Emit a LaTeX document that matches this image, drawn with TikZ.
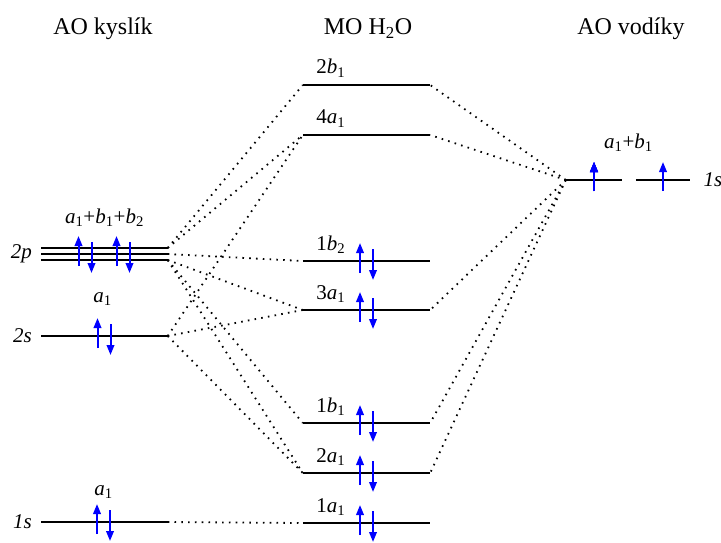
\documentclass[tikz,border=0pt]{standalone}
\usepackage{fontspec}
\setmainfont{Liberation Serif}
\usetikzlibrary{arrows.meta,calc}

% symmetry label, e.g. \sym{a}{1}
\newcommand{\sym}[2]{\textit{#1}\textsubscript{#2}}
% electron pair on orbital #1, shifted sideways by #2
\newcommand{\pair}[2]{%
  \draw[el] ([shift={(#2-6.5pt,-12pt)}]#1.center) -- ++(0pt,30pt);
  \draw[el] ([shift={(#2+6.5pt,12pt)}]#1.center) -- ++(0pt,-31pt);}

\begin{document}
\begin{tikzpicture}[x=1pt,y=-1pt,
    orb/.style={inner sep=0pt, minimum width=#1, minimum height=0pt},
    orb/.default=126pt,
    bar/.style={line width=1.8pt},
    link/.style={line width=1.8pt, dash pattern=on 1.6pt off 5.2pt},
    el/.style={blue, line width=2pt, -{Triangle[length=10pt,width=7.5pt]}},
    lab/.style={font=\fontsize{21}{25}\selectfont},
    ttl/.style={font=\fontsize{24}{28}\selectfont}]
  \useasboundingbox (0,0) rectangle (721,543);

  % titles
  \node[ttl, anchor=base] (tO)  at (103,35) {AO kyslík};
  \node[ttl, anchor=base] (tMO) at (368,35) {MO H\textsubscript{2}O};
  \node[ttl, anchor=base] (tH)  at (631,35) {AO vodíky};

  % oxygen
  \node[orb] (o1s)  at (104.5,522) {};
  \node[orb] (o2s)  at (104.5,336) {};
  \node[orb] (o2px) at (104.5,248) {};
  \node[orb] (o2py) at (104.5,254) {};
  \node[orb] (o2pz) at (104.5,260) {};
  % hydrogens
  \node[orb=56pt] (h1) at (594,180) {};
  \node[orb=54pt] (h2) at (663,180) {};
  \foreach \n in {o1s,o2s,o2px,o2py,o2pz,h1,h2}
    \draw[bar] (\n.west) -- (\n.east);

  % water
  \foreach \n/\y/\t in {2b1/85/{2\sym{b}{1}}, 4a1/135/{4\sym{a}{1}},
      1b2/261/{1\sym{b}{2}}, 3a1/310/{3\sym{a}{1}}, 1b1/423/{1\sym{b}{1}},
      2a1/473/{2\sym{a}{1}}, 1a1/523/{1\sym{a}{1}}}
  {
    \node[orb=127pt] (mo\n) at (366.5,\y) {};
    \draw[bar] (mo\n.west) -- (mo\n.east);
    \node[lab, anchor=base west] (t\n) at ([shift={(10pt,11pt)}]mo\n.west) {\t};
  }

  % labels
  \node[lab, anchor=east] (t2p) at ([xshift=-6pt]o2py.west) {\textit{2p}};
  \node[lab, anchor=east] (t2s) at ([xshift=-6pt]o2s.west) {\textit{2s}};
  \node[lab, anchor=east] (t1s) at ([xshift=-6pt]o1s.west) {\textit{1s}};
  \node[lab, anchor=west] (th)  at ([xshift=10pt]h2.east) {\textit{1s}};
  \node[lab, anchor=base] (s2p) at ([yshift=25pt]o2px.center)
    {\sym{a}{1}+\sym{b}{1}+\sym{b}{2}};
  \node[lab, anchor=base] (s2s) at ([shift={(-2pt,34pt)}]o2s.center) {\sym{a}{1}};
  \node[lab, anchor=base] (s1s) at ([shift={(-1pt,27pt)}]o1s.center) {\sym{a}{1}};
  \node[lab, anchor=base] (sh)  at ($(h1.center)!0.5!(h2.center)+(0,-32)$)
    {\sym{a}{1}+\sym{b}{1}};

  % correlation lines
  \foreach \a/\b in {o2px/mo2b1, o2px/mo4a1, o2py/mo1b2, o2pz/mo3a1,
      o2pz/mo1b1, o2pz/mo2a1, o2s/mo4a1, o2s/mo3a1, o2s/mo2a1, o1s/mo1a1}
    \draw[link] (\a.east) -- (\b.west);
  \foreach \b in {mo2b1, mo4a1, mo3a1, mo1b1, mo2a1}
    \draw[link] (h1.west) -- (\b.east);

  % electrons
  \pair{o2py}{-19.5pt}
  \pair{o2py}{18.5pt}
  \pair{o2s}{-0.5pt}
  \pair{o1s}{-1pt}
  \foreach \n in {mo1b2,mo3a1,mo1b1,mo2a1,mo1a1}
    \pair{\n}{0pt}
  \draw[el] ([yshift=-11pt]h1.center) -- ++(0pt,29pt);
  \draw[el] ([yshift=-11pt]h2.center) -- ++(0pt,29pt);
\end{tikzpicture}
\end{document}
